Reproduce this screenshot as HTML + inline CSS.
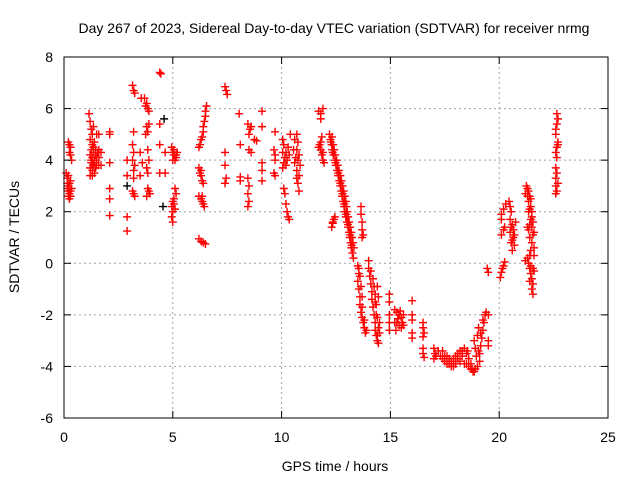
<!DOCTYPE html>
<html><head><meta charset="utf-8"><style>
html,body{margin:0;padding:0;background:#fff}
svg{display:block;font-family:"Liberation Sans",Arial,sans-serif}
</style></head><body>
<svg id="chart" width="640" height="480" viewBox="0 0 640 480">
<rect width="640" height="480" fill="#fff"/>
<g id="grid"></g>
<g id="marks"></g>
<g id="axes"></g>
<text x="334" y="33" font-size="14" text-anchor="middle" fill="#000">Day 267 of 2023, Sidereal Day-to-day VTEC variation (SDTVAR) for receiver nrmg</text>
<text x="335" y="471" font-size="14" text-anchor="middle" fill="#000">GPS time / hours</text>
<text transform="translate(19,237) rotate(-90)" font-size="14" text-anchor="middle" fill="#000">SDTVAR / TECUs</text>
</svg>
<script>
const xTicks=[0,5,10,15,20,25];
const yTicks=[-6,-4,-2,0,2,4,6,8];
const pointsMorning=[[0.2,4.7],[0.25,4.6],[0.3,4.5],[0.25,4.3],[0.3,4.2],[0.35,4.0],[0.1,3.5],[0.15,3.3],[0.15,3.1],[0.2,3.0],[0.2,2.8],[0.25,2.7],[0.25,2.5],[0.3,2.6],[0.3,3.2],[0.35,2.9],[0.2,3.4],[0.15,2.9],[0.3,2.8],[0.25,3.1],[0.2,2.6],
[1.15,5.8],[1.2,5.5],[1.25,5.2],[1.3,5.0],[1.2,4.8],[1.3,4.6],[1.25,4.4],[1.35,4.3],[1.2,4.2],[1.3,4.1],[1.4,4.0],[1.25,3.9],[1.35,3.8],[1.2,3.7],[1.3,3.6],[1.4,3.5],[1.2,3.4],[1.3,3.9],[1.45,4.4],[1.5,4.1],[1.4,4.7],[1.5,5.0],[1.35,5.3],[1.45,3.7],[1.55,4.3],[1.7,4.3],[1.7,3.8],[1.6,5.0],[1.6,4.4],[1.6,4.1],[1.6,3.8],[1.35,4.5],[1.45,4.2],[1.25,4.0],[1.4,3.9],[1.5,3.8],[1.3,3.4],
[2.1,5.1],[2.1,5.0],[2.1,3.9],[2.1,2.9],[2.1,2.5],[2.1,1.85],[2.9,3.4],[2.9,1.8],[2.9,1.25],[2.9,4.0],
[3.15,6.9],[3.2,6.7],[3.25,6.6],[3.2,5.1],[3.15,4.6],[3.2,4.3],[3.15,4.0],[3.25,3.8],[3.2,3.6],[3.2,3.3],[3.15,2.8],[3.2,2.7],[3.25,2.6],[3.5,3.4],
[3.55,6.4],[3.7,6.4],[3.8,6.2],[3.85,6.0],[3.9,5.9],[3.75,6.1],[3.8,5.3],[3.9,5.4],[3.75,5.0],[3.85,5.1],[3.5,4.3],[3.85,4.4],[3.9,4.0],[3.8,3.7],[3.85,3.5],[3.6,3.9],[3.85,2.9],[3.9,2.8],[3.95,2.7],[3.8,2.6],
[4.4,7.4],[4.45,7.35],[4.4,5.4],[4.4,4.6],[4.4,3.5],[4.65,4.3],[4.65,3.5],
[4.95,4.5],[5.0,4.3],[5.05,4.2],[5.1,4.0],[5.15,4.1],[5.2,4.3],[5.0,4.0],[5.1,2.9],[5.15,2.7],[5.0,2.4],[5.05,2.3],[4.95,2.2],[5.0,2.0],[4.95,1.8],[5.0,1.6],[5.05,2.5],[5.1,2.1],[5.05,4.4],[5.15,4.2],
[6.55,6.1],[6.5,5.9],[6.5,5.7],[6.45,5.5],[6.4,5.3],[6.4,5.1],[6.35,4.9],[6.3,4.8],[6.25,4.6],[6.2,4.5],[6.2,3.7],[6.25,3.5],[6.3,3.4],[6.35,3.2],[6.4,3.1],[6.2,2.6],[6.3,2.5],[6.35,2.4],[6.4,2.3],[6.45,2.2],[6.2,0.95],[6.3,0.85],[6.4,0.8],[6.5,0.75],[6.3,3.6],[6.35,2.6],
[7.4,6.85],[7.45,6.7],[7.5,6.55],[7.4,4.3],[7.4,3.8],[7.45,3.3],[7.4,3.1],[8.05,5.8],[8.1,4.6],[8.1,3.2],[8.1,3.35],
[8.45,5.4],[8.55,5.2],[8.5,5.0],[8.6,5.3],[8.5,4.4],[8.6,4.3],[8.45,3.3],[8.5,3.0],[8.45,2.7],[8.5,2.4],[8.45,2.2],[8.75,4.8],[8.85,4.75],
[9.1,5.9],[9.1,5.3],[9.1,3.9],[9.1,3.6],[9.1,3.2],[9.7,5.1],[9.65,4.4],[9.7,4.2],[9.7,4.0],[9.7,3.4],[9.65,3.5],
[10.05,4.8],[10.1,4.6],[10.05,4.3],[10.15,4.1],[10.1,3.9],[10.2,3.8],[10.05,3.7],[10.1,2.9],[10.15,2.7],[10.2,2.3],[10.25,2.0],[10.3,1.8],[10.35,1.7],[10.4,5.0],[10.3,4.5],[10.35,4.2],[10.2,4.3],[10.25,4.0],
[10.7,5.0],[10.75,4.7],[10.7,4.4],[10.8,4.2],[10.75,4.0],[10.85,3.8],[10.7,3.6],[10.8,3.4],[10.75,3.1],[10.8,2.8],[10.7,3.3],[10.6,4.8],[10.55,4.4],[10.65,4.1],[10.6,3.9]];
const pointsAfternoon=[[11.7,5.9],[11.8,5.8],[11.9,6.0],[11.8,5.6],[11.75,4.6],[11.8,4.4],[11.85,4.2],[11.9,4.0],[11.95,3.9],[11.8,4.7],[11.85,4.9],[11.7,4.5],[11.9,4.3],
[12.2,5.0],[12.25,4.8],[12.3,4.6],[12.32,4.4],[12.38,4.2],[12.45,4.0],[12.5,3.8],[12.55,3.6],[12.6,3.4],[12.65,3.2],[12.7,3.0],[12.74,2.8],[12.78,2.6],[12.83,2.4],[12.87,2.2],[12.9,2.0],[12.95,1.8],[13.0,1.6],[13.05,1.4],[13.1,1.2],[13.13,1.0],[13.17,0.8],[13.2,0.6],[13.25,0.4],[13.3,0.2],
[12.32,4.9],[12.37,4.6],[12.42,4.4],[12.46,4.2],[12.53,4.0],[12.58,3.8],[12.64,3.6],[12.7,3.4],[12.75,3.2],[12.8,3.0],[12.85,2.8],[12.9,2.6],[12.95,2.4],[12.98,2.2],[13.02,2.0],[13.06,1.8],[13.1,1.6],[13.15,1.4],[13.2,1.2],[13.24,1.0],[13.28,0.8],[13.32,0.6],
[12.26,4.7],[12.35,4.3],[12.48,3.9],[12.6,3.5],[12.7,3.1],[12.8,2.7],[12.88,2.3],[12.97,1.9],[13.05,1.5],[13.15,1.1],[13.22,0.7],
[12.3,1.4],[12.35,1.55],[12.4,1.7],[12.45,1.8],[12.35,1.6],
[13.65,2.2],[13.65,1.9],[13.7,1.6],[13.7,1.3],[13.75,1.1],[13.7,1.0],
[13.5,-0.1],[13.55,-0.4],[13.5,-0.7],[13.55,-1.0],[13.6,-1.3],[13.6,-1.6],[13.65,-1.9],[13.7,-2.1],[13.75,-2.3],[13.8,-2.5],[13.85,-2.7],[13.55,-0.2],[13.7,-1.3],[13.6,-0.5],[13.65,-0.9],[13.7,-1.7],[13.8,-2.2],[13.9,-2.6],
[14.0,0.1],[14.0,-0.2],[14.05,-0.5],[14.1,-0.8],[14.15,-1.1],[14.15,-1.4],[14.2,-1.7],[14.25,-2.0],[14.3,-2.3],[14.3,-2.6],[14.35,-2.8],[14.4,-3.0],[14.45,-3.1],[14.2,-0.6],[14.3,-1.2],[14.35,-1.6],[14.4,-2.1],[14.45,-2.5],[14.5,-2.7],[14.1,-0.3],[14.4,-0.9],[14.25,-0.9],[14.3,-1.5],[14.35,-2.0],[14.45,-1.3],[14.5,-2.3],[14.4,-2.8],
[14.95,-1.2],[14.95,-1.5],[14.95,-2.0],[14.95,-2.3],[14.95,-2.6],[15.2,-1.8],[15.3,-1.9],[15.4,-2.0],[15.5,-2.1],[15.6,-2.0],[15.3,-2.3],[15.4,-2.4],[15.5,-2.5],[15.25,-2.6],[15.6,-2.4],[15.45,-1.85],[15.35,-2.15],[15.55,-2.3],[15.2,-2.3],
[16.0,-1.45],[16.0,-2.0],[16.0,-2.2],[16.0,-2.7],[16.0,-2.9],[16.5,-2.3],[16.5,-2.5],[16.55,-2.7],[16.5,-2.85],[16.5,-3.3],[16.5,-3.5],[16.55,-3.65]];
const pointsEvening=[[17.0,-3.3],[17.05,-3.5],[17.1,-3.6],[17.0,-3.7],[17.2,-3.4],[17.3,-3.6],[17.4,-3.7],[17.5,-3.8],[17.6,-3.9],[17.7,-3.9],[17.8,-3.8],[17.9,-3.7],[18.0,-3.6],[18.1,-3.5],[18.2,-3.4],[18.3,-3.4],[18.4,-3.3],[18.5,-3.5],[18.6,-3.7],[18.7,-3.9],[18.75,-4.1],[18.8,-4.2],[18.9,-4.1],[19.0,-4.0],[19.1,-3.8],[19.15,-3.2],[19.2,-2.9],[19.25,-2.6],[19.3,-2.3],[19.35,-2.0],[19.1,-3.5],[18.95,-3.6],[18.9,-3.3],[18.85,-3.0],[18.6,-4.0],[18.5,-3.9],[17.6,-3.6],[17.9,-4.0],[18.2,-3.8],[18.4,-3.9],[17.4,-3.4],[19.0,-2.8],[19.05,-2.5],
[17.5,-3.6],[17.7,-3.7],[17.8,-4.0],[18.0,-3.9],[18.1,-3.7],[18.3,-3.6],[18.55,-3.4],[18.7,-4.1],[18.85,-4.2],[19.05,-3.4],[19.15,-2.7],[19.25,-2.2],
[19.4,-1.9],[19.5,-2.0],[19.5,-3.2],[19.5,-3.0],[19.45,-0.2],[19.5,-0.35],
[20.1,1.9],[20.2,2.1],[20.3,2.3],[20.1,1.7],[20.1,1.1],[20.2,1.3],[20.25,1.4],[20.05,-0.55],[20.1,-0.35],[20.2,-0.1],[20.25,0.05],[20.15,-0.2],
[20.45,2.4],[20.5,2.2],[20.55,2.0],[20.5,1.7],[20.6,1.5],[20.65,1.3],[20.7,1.1],[20.6,0.9],[20.55,0.8],[20.7,0.7],[20.75,1.6],[20.5,1.2],[20.6,0.5],[20.55,1.4],[20.65,1.0],
[21.25,3.0],[21.3,2.9],[21.35,2.8],[21.2,2.7],[21.4,2.6],[21.35,2.4],[21.45,2.2],[21.5,2.0],[21.5,1.8],[21.55,1.6],[21.5,1.4],[21.4,1.5],[21.3,1.4],[21.6,1.2],[21.55,1.1],[21.5,0.8],[21.45,0.5],[21.4,0.3],[21.3,0.2],[21.35,0.0],[21.4,-0.2],[21.45,-0.4],[21.5,-0.6],[21.55,-0.8],[21.5,-1.0],[21.55,-1.2],[21.6,0.6],[21.6,0.3],[21.6,-0.3],[21.2,0.1],[21.35,2.0],[21.4,1.0],
[21.3,2.6],[21.45,2.5],[21.4,2.1],[21.45,1.7],[21.35,1.3],[21.45,-0.1],[21.4,-0.7],[21.55,-0.2],
[22.65,5.8],[22.7,5.6],[22.65,5.4],[22.6,5.2],[22.6,5.0],[22.7,4.7],[22.65,4.5],[22.6,4.3],[22.65,4.1],[22.6,3.7],[22.65,3.5],[22.6,3.3],[22.7,3.1],[22.6,3.0],[22.65,2.8],[22.6,2.7],[22.7,4.6]];
const blackPoints=[[4.6,5.6],[2.9,3.0],[4.55,2.2]];

const X0=64,X1=608,Y0=418,Y1=57,xMin=0,xMax=25,yMin=-6,yMax=8;
function sx(t){return X0+(t-xMin)/(xMax-xMin)*(X1-X0);}
function sy(v){return Y0-(v-yMin)/(yMax-yMin)*(Y0-Y1);}
const NS="http://www.w3.org/2000/svg";
function mk(tag,attrs,parent){const e=document.createElementNS(NS,tag);for(const k in attrs)e.setAttribute(k,attrs[k]);parent.appendChild(e);return e;}
const grid=document.getElementById('grid'),axes=document.getElementById('axes'),marks=document.getElementById('marks');
xTicks.forEach(t=>{
  const x=sx(t);
  if(t>xMin&&t<xMax){const g=mk('line',{x1:x,x2:x,y1:Y1,y2:Y0,stroke:'#a0a0a0','stroke-dasharray':'2,3'},grid);
  
  }
  const a=mk('line',{x1:x,x2:x,y1:Y0,y2:Y0-7,stroke:'#000'},axes);
  
  
  const b=mk('line',{x1:x,x2:x,y1:Y1,y2:Y1+7,stroke:'#000'},axes);
  
  
  const l=mk('text',{x:x,y:Y0+24,'font-size':14,'text-anchor':'middle',fill:'#000'},axes);
  l.textContent=t;
  
  
});
yTicks.forEach(v=>{
  const y=sy(v);
  if(v>yMin&&v<yMax){const g=mk('line',{x1:X0,x2:X1,y1:y,y2:y,stroke:'#a0a0a0','stroke-dasharray':'2,3'},grid);
  
  }
  const a=mk('line',{x1:X0,x2:X0+7,y1:y,y2:y,stroke:'#000'},axes);
  
  
  const b=mk('line',{x1:X1,x2:X1-7,y1:y,y2:y,stroke:'#000'},axes);
  
  
  const l=mk('text',{x:X0-11,y:y+5,'font-size':14,'text-anchor':'end',fill:'#000'},axes);
  l.textContent=v;
  
  
});
const border=mk('rect',{x:X0,y:Y1,width:X1-X0,height:Y0-Y1,fill:'none',stroke:'#000'},axes);


function plus(p,color){
  const x=sx(p[0]),y=sy(p[1]);
  const e=mk('path',{d:`M${x-4},${y}H${x+4}M${x},${y-4}V${y+4}`,stroke:color,'stroke-width':1.4,fill:'none'},marks);
  
  
}
pointsMorning.forEach(p=>plus(p,'#ff0000'));
pointsAfternoon.forEach(p=>plus(p,'#ff0000'));
pointsEvening.forEach(p=>plus(p,'#ff0000'));
blackPoints.forEach(p=>plus(p,'#000'));
</script>
</body></html>
